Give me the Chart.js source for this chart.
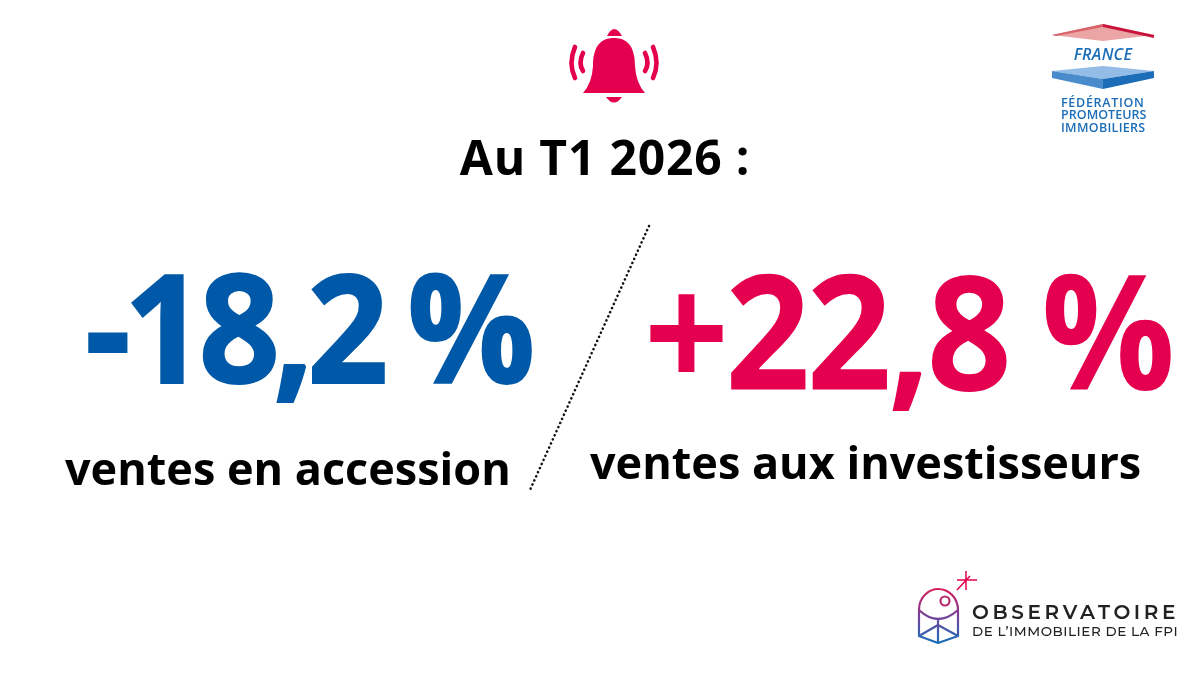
<!DOCTYPE html>
<html lang="fr"><head><meta charset="utf-8">
<style>html,body{margin:0;padding:0;background:#fff}#w{width:1200px;height:675px;position:relative}</style>
<script src="https://cdn.jsdelivr.net/npm/chart.js@4"></script></head>
<body><div id="w"><canvas id="c" width="1200" height="675"></canvas></div>
<script>
const headline = "Au T1 2026 :";
const categories = ["ventes en accession", "ventes aux investisseurs"];
const values = [-18.2, 22.8];
const seriesColors = ["#0059A8", "#E5004F"];
const dividerX = [649, 530];
const dividerY = [226, 490];
const valueAnchorX = [85, 644];
const valueAnchorY = [383, 390];
const labelAnchorX = [65, 590];
const labelAnchorY = [485, 479];
const FONT = '"Open Sans"';

function fmt(v){
  const s = Math.abs(v).toFixed(1).replace(".", ",");
  return (v < 0 ? "-" : "+") + s + " %";
}
function txt(ctx, s, x, y, font, color, ls, align, sx, ws, stroke){
  ctx.save();
  ctx.translate(x, y); ctx.scale(sx || 1, 1);
  ctx.font = font; ctx.fillStyle = color; ctx.letterSpacing = ls || "0px";
  ctx.wordSpacing = ws || "0px";
  ctx.textAlign = align || "left"; ctx.textBaseline = "alphabetic";
  if (stroke) { ctx.strokeStyle = color; ctx.lineWidth = stroke; ctx.lineJoin = "miter"; ctx.strokeText(s, 0, 0); }
  ctx.fillText(s, 0, 0); ctx.restore();
}
function bell(ctx){
  const c = "#E5004F";
  ctx.save(); ctx.fillStyle = c; ctx.strokeStyle = c; ctx.lineCap = "round";
  ctx.beginPath();
  ctx.moveTo(583,93); ctx.quadraticCurveTo(592,83,593,66);
  ctx.bezierCurveTo(593,46,601,38,614,38);
  ctx.bezierCurveTo(627,38,635,46,635,66);
  ctx.quadraticCurveTo(636,83,645,93); ctx.closePath(); ctx.fill();
  ctx.beginPath(); ctx.moveTo(607,36); ctx.quadraticCurveTo(614,22,622,36); ctx.closePath(); ctx.fill();
  ctx.beginPath(); ctx.moveTo(606,97); ctx.quadraticCurveTo(614,108,622,97); ctx.closePath(); ctx.fill();
  ctx.lineWidth = 4.6;
  [[575,47,568,63,575,78],[583,53,578,63,583,71],[653,47,660,63,653,78],[645,53,650,63,645,71]].forEach(a=>{
    ctx.beginPath(); ctx.moveTo(a[0],a[1]); ctx.quadraticCurveTo(a[2],a[3],a[4],a[5]); ctx.stroke();
  });
  ctx.restore();
}
function poly(ctx, pts, col){
  ctx.fillStyle = col; ctx.beginPath();
  pts.forEach((p,i)=> i ? ctx.lineTo(p[0],p[1]) : ctx.moveTo(p[0],p[1]));
  ctx.closePath(); ctx.fill();
}
function fpiLogo(ctx){
  ctx.save();
  poly(ctx, [[1052,35],[1103,24],[1154,35],[1103,41]], "#EBA5A5");
  poly(ctx, [[1052,35],[1103,24],[1103,27],[1056,36]], "#D9636B");
  poly(ctx, [[1103,24],[1154,35],[1154,38],[1103,27]], "#C8143C");
  poly(ctx, [[1052,71],[1103,66],[1154,71],[1103,79]], "#93BDE6");
  poly(ctx, [[1052,71],[1103,79],[1103,89],[1052,78]], "#4A8BCB");
  poly(ctx, [[1103,79],[1154,71],[1154,78],[1103,89]], "#1C6DB8");
  txt(ctx, "FRANCE", 1103, 60, 'italic 600 16px "Open Sans"', "#1B6DB7", "0.3px", "center");
  txt(ctx, "FÉDÉRATION", 1061, 107, '600 12.5px "Open Sans"', "#1B6DB7", "0.7px");
  txt(ctx, "PROMOTEURS", 1061, 119, '600 12.5px "Open Sans"', "#1B6DB7", "0.05px");
  txt(ctx, "IMMOBILIERS", 1061, 131.5, '600 12.5px "Open Sans"', "#1B6DB7", "0.3px");
  ctx.restore();
}
function obsLogo(ctx){
  ctx.save();
  const g = ctx.createLinearGradient(0,588,0,642);
  g.addColorStop(0,"#D81E5B"); g.addColorStop(.5,"#7A3F96"); g.addColorStop(1,"#1C6DB8");
  ctx.strokeStyle = g; ctx.lineWidth = 2.2; ctx.lineJoin = "round";
  ctx.beginPath();
  ctx.moveTo(919,628); ctx.lineTo(919,610);
  ctx.bezierCurveTo(919,596,930,589,938,589);
  ctx.bezierCurveTo(949,589,958,598,958,610);
  ctx.lineTo(958,636); ctx.lineTo(938,643); ctx.lineTo(919,636); ctx.lineTo(919,610);
  ctx.moveTo(919,610); ctx.quadraticCurveTo(938,628,958,610);
  ctx.moveTo(919,636); ctx.lineTo(938,625); ctx.lineTo(958,636);
  ctx.moveTo(938,619); ctx.lineTo(938,643);
  ctx.stroke();
  ctx.beginPath(); ctx.arc(945,601,4.5,0,Math.PI*2); ctx.strokeStyle = "#B82A6E"; ctx.stroke();
  ctx.strokeStyle = "#E5004F"; ctx.lineWidth = 1.5;
  ctx.beginPath(); ctx.moveTo(957,590); ctx.lineTo(970,576);
  ctx.moveTo(966,571); ctx.lineTo(966,590); ctx.moveTo(957,580); ctx.lineTo(977,580); ctx.stroke();
  txt(ctx, "OBSERVATOIRE", 972, 619, '600 20px Montserrat, "Open Sans"', "#222222", "3.6px");
  txt(ctx, "DE L’IMMOBILIER DE LA FPI", 972, 636, '500 13.5px Montserrat, "Open Sans"', "#222222", "0.55px");
  ctx.restore();
}
const valueFonts = ["bold 151px", "bold 160px"];
const valueSpacing = ["-7px", "-4px"];
const valueWord = ["-5px", "-2px"];
const valueScaleX = [0.94, 0.93];
const valueStroke = [2, 0];
const infographic = {
  id: "infographic",
  afterDatasetsDraw(chart){
    const {ctx, scales:{x,y}} = chart;
    ctx.save();
    bell(ctx); fpiLogo(ctx); obsLogo(ctx);
    txt(ctx, headline, x.getPixelForValue(605), y.getPixelForValue(175), `bold 48px ${FONT}`, "#000", "0.8px", "center");
    values.forEach((v,i)=>{
      txt(ctx, fmt(v), x.getPixelForValue(valueAnchorX[i]), y.getPixelForValue(valueAnchorY[i]),
          `${valueFonts[i]} ${FONT}`, seriesColors[i], valueSpacing[i], "left", valueScaleX[i], valueWord[i], valueStroke[i]);
      txt(ctx, categories[i], x.getPixelForValue(labelAnchorX[i]), y.getPixelForValue(labelAnchorY[i]),
          `bold 45px ${FONT}`, "#000", "0px");
    });
    ctx.restore();
  }
};
new Chart(document.getElementById("c"), {
  type: "scatter",
  data: { datasets: [{
    data: dividerX.map((vx,i)=>({x:vx, y:dividerY[i]})),
    showLine: true, borderColor: "#111", borderWidth: 2.6, borderDash: [0.1,4.4],
    borderCapStyle: "round", pointRadius: 0, fill: false
  }]},
  options: {
    responsive: false, animation: false, devicePixelRatio: 1,
    layout: { padding: 0 },
    plugins: { legend: {display:false}, tooltip: {enabled:false}, title:{display:false} },
    scales: {
      x: { type:"linear", min:0, max:1200, display:false },
      y: { type:"linear", min:0, max:675, reverse:true, display:false }
    }
  },
  plugins: [infographic]
});
</script></body></html>
